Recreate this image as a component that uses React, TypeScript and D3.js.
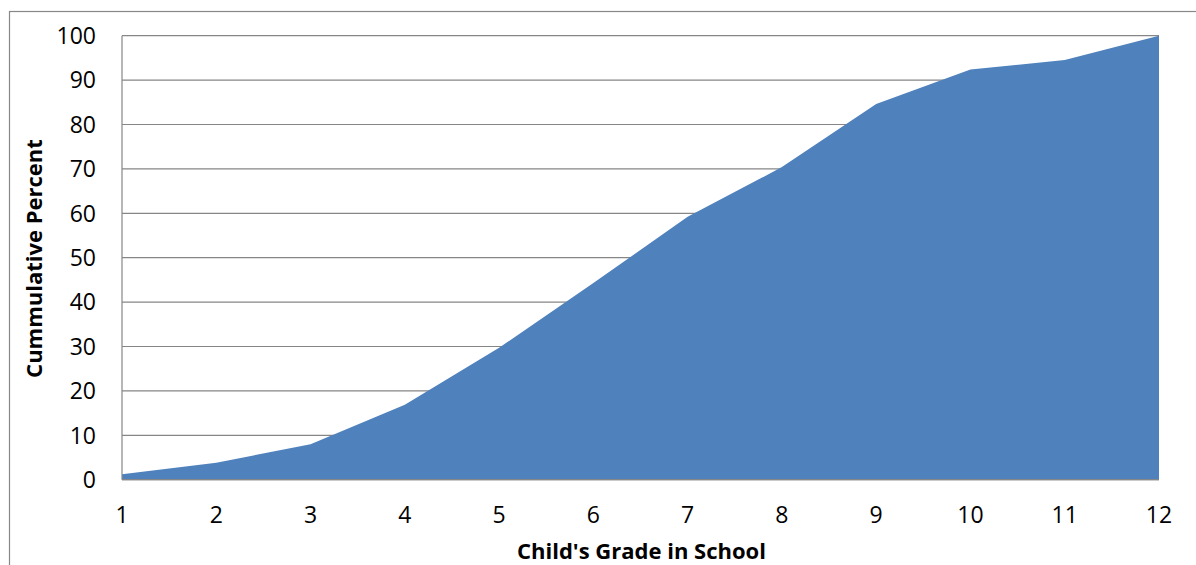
import React from "react";
import * as d3 from "d3";

const grades = [1, 2, 3, 4, 5, 6, 7, 8, 9, 10, 11, 12];
const cumulativePercent = [1.2, 3.8, 8.0, 16.9, 29.7, 44.3, 59.2, 70.4, 84.6, 92.4, 94.5, 100];
const yTicks = [0, 10, 20, 30, 40, 50, 60, 70, 80, 90, 100];
const xTitle = "Child's Grade in School";
const yTitle = "Cummulative Percent";

const W = 1196;
const H = 565;
const FONT = "'Open Sans', 'Liberation Sans', sans-serif";

export default function App() {
  const left = 122;
  const right = 1159;
  const top = 35.7;
  const bottom = 479.7;

  const x = d3.scaleLinear().domain([1, 12]).range([left, right]);
  const y = d3.scaleLinear().domain([0, 100]).range([bottom, top]);

  const area = d3
    .area<number>()
    .x((_, i) => x(grades[i]))
    .y0(y(0))
    .y1((d) => y(d));

  return (
    <svg
      width={W}
      height={H}
      style={{ position: "absolute", left: 0, top: 0, background: "#fff" }}
    >
      <rect x={9.5} y={11.5} width={W} height={H} fill="#fff" stroke="#888" strokeWidth={1.2} />
      {yTicks.map((t) => (
        <line key={"g" + t} x1={left} x2={right} y1={y(t)} y2={y(t)} stroke="#868686" strokeWidth={1.2} />
      ))}
      <path d={area(cumulativePercent) || ""} fill="#4F81BD" />
      <line x1={left} x2={left} y1={top} y2={bottom} stroke="#868686" strokeWidth={1.2} />
      <line x1={left} x2={right} y1={bottom} y2={bottom} stroke="#868686" strokeWidth={1.2} />
      {yTicks.map((t) => (
        <text
          key={"yl" + t}
          x={96}
          y={y(t)}
          dy="0.36em"
          textAnchor="end"
          fontFamily={FONT}
          fontSize={23}
          fill="#000"
        >
          {t}
        </text>
      ))}
      {grades.map((g) => (
        <text
          key={"xl" + g}
          x={x(g)}
          y={515}
          dy="0.36em"
          textAnchor="middle"
          fontFamily={FONT}
          fontSize={23}
          fill="#000"
        >
          {g}
        </text>
      ))}
      <text
        x={(left + right) / 2 + 1}
        y={551}
        dy="0.36em"
        textAnchor="middle"
        fontFamily={FONT}
        fontWeight="bold"
        fontSize={22}
        fill="#000"
      >
        {xTitle}
      </text>
      <text
        transform={`translate(34, 258.5) rotate(-90)`}
        dy="0.36em"
        textAnchor="middle"
        fontFamily={FONT}
        fontWeight="bold"
        fontSize={22}
        fill="#000"
      >
        {yTitle}
      </text>
    </svg>
  );
}
